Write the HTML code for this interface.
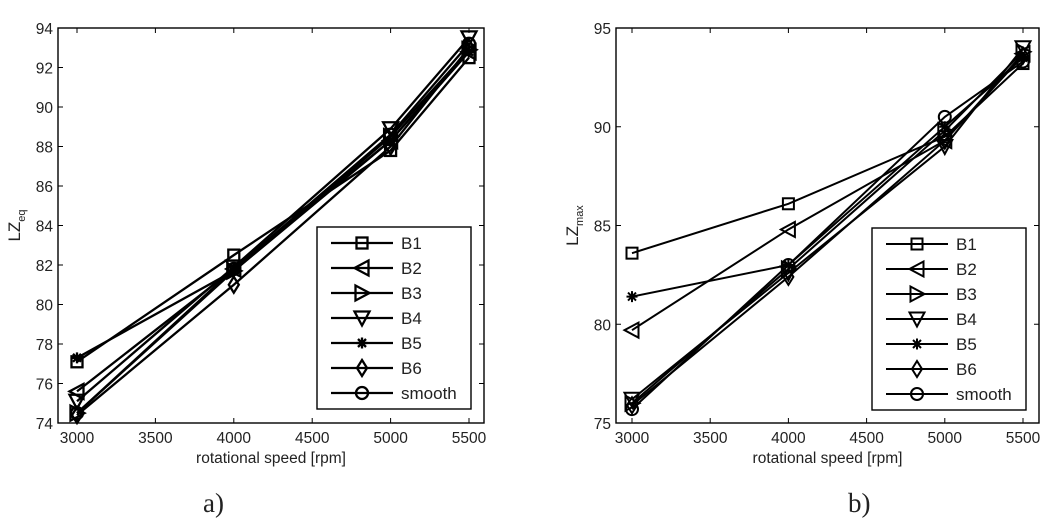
<!DOCTYPE html>
<html><head><meta charset="utf-8"><style>
html,body{margin:0;padding:0;background:#fff;}
svg{display:block;}
text{font-family:"Liberation Sans",sans-serif;fill:#222;}
</style></head><body>
<svg id="s" width="1055" height="524" xmlns="http://www.w3.org/2000/svg"></svg>
<script>
var s=document.getElementById('s');var out='';
function mk(type,x,y,sw){
  var r=6.5;
  switch(type){
    case 'sq':r=5.5;return '<rect x="'+(x-r)+'" y="'+(y-r)+'" width="'+(2*r)+'" height="'+(2*r)+'" fill="none" stroke="#000" stroke-width="'+sw+'"/>';
    case 'l':return '<polygon points="'+(x-r-1)+','+y+' '+(x+r)+','+(y-r-1)+' '+(x+r)+','+(y+r+1)+'" fill="none" stroke="#000" stroke-width="'+sw+'"/>';
    case 'r':return '<polygon points="'+(x+r+1)+','+y+' '+(x-r)+','+(y-r-1)+' '+(x-r)+','+(y+r+1)+'" fill="none" stroke="#000" stroke-width="'+sw+'"/>';
    case 'd':return '<polygon points="'+x+','+(y+r+1)+' '+(x-r-1)+','+(y-r)+' '+(x+r+1)+','+(y-r)+'" fill="none" stroke="#000" stroke-width="'+sw+'"/>';
    case 'st':var a=5.5,b=4;return '<path d="M'+(x-a)+' '+y+'H'+(x+a)+'M'+x+' '+(y-a)+'V'+(y+a)+'M'+(x-b)+' '+(y-b)+'L'+(x+b)+' '+(y+b)+'M'+(x-b)+' '+(y+b)+'L'+(x+b)+' '+(y-b)+'" stroke="#000" stroke-width="'+sw+'"/>';
    case 'dm':return '<polygon points="'+x+','+(y-r-1.5)+' '+(x+r-1.5)+','+y+' '+x+','+(y+r+1.5)+' '+(x-r+1.5)+','+y+'" fill="none" stroke="#000" stroke-width="'+sw+'"/>';
    case 'c':r=6;return '<circle cx="'+x+'" cy="'+y+'" r="'+r+'" fill="none" stroke="#000" stroke-width="'+sw+'"/>';
  }
}
var types=['sq','l','r','d','st','dm','c'];
var names=['B1','B2','B3','B4','B5','B6','smooth'];
function plot(P){
  var X=function(v){return P.x0+(v-3000)*(P.x1-P.x0)/2500;};
  var Y=function(v){return P.bt-(v-P.ymin)*(P.bt-P.tp)/(P.ymax-P.ymin);};
  out+='<rect x="'+P.L+'" y="'+P.tp+'" width="'+(P.R-P.L)+'" height="'+(P.bt-P.tp)+'" fill="none" stroke="#000" stroke-width="1.4"/>';
  [3000,3500,4000,4500,5000,5500].forEach(function(v){var x=X(v);
    out+='<path d="M'+x+' '+P.bt+'v-5M'+x+' '+P.tp+'v5" stroke="#000"/>';
    out+='<text x="'+x+'" y="'+(P.bt+20)+'" font-size="15.5" text-anchor="middle">'+v+'</text>';});
  P.yt.forEach(function(v){var y=Y(v);
    out+='<path d="M'+P.L+' '+y+'h5M'+P.R+' '+y+'h-5" stroke="#000"/>';
    out+='<text x="'+(P.L-5)+'" y="'+(y+6)+'" font-size="15.5" text-anchor="end">'+v+'</text>';});
  out+='<text x="'+((P.L+P.R)/2)+'" y="'+(P.bt+40)+'" font-size="15.5" text-anchor="middle">rotational speed [rpm]</text>';
  out+='<text transform="translate('+(P.L-38)+','+((P.tp+P.bt)/2)+') rotate(-90)" font-size="17" text-anchor="middle">LZ<tspan font-size="11" dy="5">'+P.sub+'</tspan></text>';
  var xs=[3000,4000,5000,5500];
  P.data.forEach(function(d,i){
    var pts=d.map(function(v,j){return X(xs[j])+','+Y(v);}).join(' ');
    out+='<polyline points="'+pts+'" fill="none" stroke="#000" stroke-width="'+P.sw+'"/>';
    d.forEach(function(v,j){out+=mk(types[i],X(xs[j]),Y(v),P.sw);});
  });
  out+='<rect x="'+P.lg[0]+'" y="'+P.lg[1]+'" width="154" height="182" fill="#fff" stroke="#000" stroke-width="1.4"/>';
  names.forEach(function(n,i){var y=P.lg[1]+16+i*25,x=P.lg[0];
    out+='<path d="M'+(x+14)+' '+y+'H'+(x+76)+'" stroke="#000" stroke-width="'+P.sw+'"/>';
    out+=mk(types[i],x+45,y,P.sw);
    out+='<text x="'+(x+84)+'" y="'+(y+6)+'" font-size="17">'+n+'</text>';});
  out+='<text x="'+P.cap+'" y="512" font-size="27" style="font-family:\'Liberation Serif\',serif">'+P.capt+'</text>';
}
plot({L:58,R:484,tp:28,bt:423,x0:77,x1:469,ymin:74,ymax:94,yt:[74,76,78,80,82,84,86,88,90,92,94],sub:'eq',sw:2.3,lg:[317,227],cap:203,capt:'a)',
data:[[77.1,82.5,87.8,92.5],[75.6,81.8,88.3,92.8],[74.5,81.7,88.5,92.9],[75.1,81.9,88.9,93.5],[77.3,81.7,88.3,92.8],[74.4,81.0,88.0,93.0],[74.5,81.8,88.6,93.2]]});
plot({L:616,R:1039,tp:28,bt:423,x0:632,x1:1023,ymin:75,ymax:95,yt:[75,80,85,90,95],sub:'max',sw:2,lg:[872,228],cap:848,capt:'b)',
data:[[83.6,86.1,89.5,93.2],[79.7,84.8,89.3,93.7],[76.0,82.8,89.8,93.8],[76.2,82.6,89.0,94.0],[81.4,83.0,90.0,93.5],[75.9,82.4,89.3,93.6],[75.7,83.0,90.5,93.3]]});
s.innerHTML=out;
</script>
</body></html>
